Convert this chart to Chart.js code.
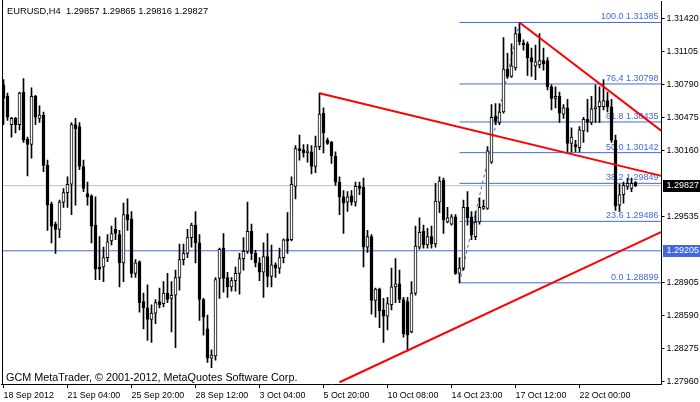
<!DOCTYPE html>
<html lang="en">
<head>
<meta charset="UTF-8">
<title>EURUSD,H4</title>
<script src="https://cdn.jsdelivr.net/npm/chart.js"></script>
<style>
  body { margin: 0; background: #fff; }
  canvas { display: block; }
</style>
</head>
<body>
<canvas id="chart" width="700" height="402"></canvas>
<script>
// EURUSD H4 candles (bar 0 = 18 Sep 2012)
const opens = [
  1.3079, 1.3068, 1.3041, 1.3047, 1.3041, 1.3072, 1.3027, 1.3022, 1.3068, 1.3047,
  1.3050, 1.3002, 1.2965, 1.2946, 1.2941, 1.2967, 1.2976, 1.2984, 1.3041, 1.3039,
  1.3001, 1.2975, 1.2973, 1.2945, 1.2905, 1.2905, 1.2914, 1.2930, 1.2941, 1.2936,
  1.2909, 1.2955, 1.2951, 1.2899, 1.2910, 1.2872, 1.2866, 1.2855, 1.2861, 1.2872,
  1.2870, 1.2880, 1.2875, 1.2878, 1.2895, 1.2912, 1.2918, 1.2933, 1.2945, 1.2928,
  1.2874, 1.2846, 1.2818, 1.2820, 1.2894, 1.2923, 1.2895, 1.2886, 1.2892, 1.2899,
  1.2913, 1.2920, 1.2939, 1.2918, 1.2909, 1.2900, 1.2915, 1.2896, 1.2907, 1.2904,
  1.2914, 1.2932, 1.2931, 1.2982, 1.3018, 1.3017, 1.3014, 1.3015, 1.3001, 1.3020,
  1.3052, 1.3026, 1.3024, 1.3011, 1.2986, 1.2972, 1.2967, 1.2973, 1.2967, 1.2982,
  1.2981, 1.2924, 1.2934, 1.2873, 1.2884, 1.2864, 1.2858, 1.2869, 1.2886, 1.2889,
  1.2874, 1.2872, 1.2843, 1.2880, 1.2924, 1.2939, 1.2926, 1.2934, 1.2927, 1.2967,
  1.2988, 1.2948, 1.2946, 1.2953, 1.2899, 1.2904, 1.2962, 1.2953, 1.2934, 1.2948,
  1.2961, 1.2961, 1.3005, 1.3049, 1.3043, 1.3053, 1.3094, 1.3087, 1.3095, 1.3128,
  1.3119, 1.3118, 1.3105, 1.3097, 1.3098, 1.3102, 1.3102, 1.3077, 1.3066, 1.3068,
  1.3051, 1.3057, 1.3023, 1.3022, 1.3019, 1.3035, 1.3046, 1.3043, 1.3056, 1.3058,
  1.3058, 1.3064, 1.3058, 1.3026, 1.2964, 1.2974, 1.2982, 1.2980, 1.29857
];
const highs = [
  1.3084, 1.3071, 1.3048, 1.3048, 1.3072, 1.3085, 1.3029, 1.3076, 1.3069, 1.3059,
  1.3053, 1.3007, 1.2967, 1.2948, 1.2969, 1.2980, 1.2991, 1.3043, 1.3047, 1.3043,
  1.3007, 1.2986, 1.2974, 1.2972, 1.2934, 1.2924, 1.2936, 1.2944, 1.2952, 1.2940,
  1.2966, 1.2970, 1.2958, 1.2912, 1.2911, 1.2880, 1.2888, 1.2869, 1.2874, 1.2885,
  1.2891, 1.2899, 1.2891, 1.2902, 1.2927, 1.2927, 1.2941, 1.2947, 1.2958, 1.2936,
  1.2875, 1.2859, 1.2826, 1.2895, 1.2923, 1.2937, 1.2900, 1.2895, 1.2905, 1.2918,
  1.2933, 1.2967, 1.2946, 1.2921, 1.2914, 1.2928, 1.2937, 1.2926, 1.2909, 1.2923,
  1.2932, 1.2957, 1.2991, 1.3021, 1.3031, 1.3022, 1.3022, 1.3021, 1.3030, 1.3071,
  1.3057, 1.3028, 1.3025, 1.3015, 1.2991, 1.2978, 1.2977, 1.2978, 1.2986, 1.2986,
  1.2990, 1.2940, 1.2936, 1.2885, 1.2885, 1.2875, 1.2876, 1.2904, 1.2913, 1.2902,
  1.2876, 1.2876, 1.2891, 1.2944, 1.2952, 1.2945, 1.2942, 1.2944, 1.2985, 1.2991,
  1.2990, 1.2962, 1.2955, 1.2955, 1.2914, 1.2969, 1.2977, 1.2958, 1.2958, 1.2971,
  1.2969, 1.3020, 1.3060, 1.3061, 1.3061, 1.3124, 1.3109, 1.3118, 1.3134, 1.31385,
  1.3122, 1.3120, 1.3114, 1.3117, 1.3128, 1.3114, 1.3105, 1.3079, 1.3077, 1.3072,
  1.3060, 1.3065, 1.3038, 1.3026, 1.3039, 1.3048, 1.3065, 1.3068, 1.3079, 1.3077,
  1.3084, 1.3072, 1.3065, 1.3031, 1.2984, 1.2986, 1.2990, 1.2990, 1.29865
];
const lows = [
  1.3041, 1.3045, 1.3029, 1.3033, 1.3036, 1.3024, 1.2992, 1.3009, 1.3041, 1.3043,
  1.2996, 1.2940, 1.2928, 1.2918, 1.2933, 1.2962, 1.2962, 1.2955, 1.2964, 1.2998,
  1.2977, 1.2964, 1.2928, 1.2893, 1.2893, 1.2891, 1.2910, 1.2926, 1.2931, 1.2886,
  1.2891, 1.2940, 1.2895, 1.2895, 1.2862, 1.2846, 1.2835, 1.2833, 1.2851, 1.2866,
  1.2867, 1.2871, 1.2843, 1.2828, 1.2883, 1.2907, 1.2914, 1.2924, 1.2909, 1.2854,
  1.2840, 1.2814, 1.2809, 1.2816, 1.2875, 1.2881, 1.2876, 1.2882, 1.2882, 1.2879,
  1.2902, 1.2918, 1.2912, 1.2905, 1.2892, 1.2876, 1.2886, 1.2886, 1.2895, 1.2899,
  1.2909, 1.2918, 1.2930, 1.2970, 1.3007, 1.3010, 1.3005, 1.2994, 1.2995, 1.3017,
  1.3014, 1.3022, 1.3004, 1.2983, 1.2955, 1.2937, 1.2958, 1.2964, 1.2963, 1.2974,
  1.2905, 1.2919, 1.2860, 1.2857, 1.2847, 1.2833, 1.2845, 1.2864, 1.2871, 1.2871,
  1.2838, 1.2825, 1.2842, 1.2878, 1.2922, 1.2923, 1.2923, 1.2923, 1.2924, 1.2957,
  1.2937, 1.2947, 1.2945, 1.2898, 1.28899, 1.2902, 1.2945, 1.2931, 1.2931, 1.2946,
  1.2960, 1.2960, 1.3004, 1.3041, 1.3041, 1.3052, 1.3085, 1.3086, 1.3093, 1.3117,
  1.3112, 1.3088, 1.3087, 1.3084, 1.3095, 1.3093, 1.3074, 1.3055, 1.3057, 1.3043,
  1.3047, 1.3015, 1.3015, 1.3015, 1.3015, 1.3024, 1.3034, 1.3041, 1.3043, 1.3043,
  1.3055, 1.3053, 1.3024, 1.2959, 1.2958, 1.2966, 1.2979, 1.2977, 1.29816
];
const closes = [
  1.3066, 1.3048, 1.3047, 1.3041, 1.3071, 1.3026, 1.3022, 1.3068, 1.3048, 1.3050,
  1.3002, 1.2964, 1.2944, 1.2941, 1.2967, 1.2976, 1.2984, 1.3041, 1.3037, 1.3001,
  1.2980, 1.2972, 1.2944, 1.2903, 1.2903, 1.2914, 1.2929, 1.2937, 1.2937, 1.2909,
  1.2955, 1.2950, 1.2899, 1.2909, 1.2871, 1.2866, 1.2855, 1.2861, 1.2871, 1.2869,
  1.2880, 1.2874, 1.2878, 1.2895, 1.2912, 1.2918, 1.2933, 1.2945, 1.2928, 1.2874,
  1.2857, 1.2818, 1.2821, 1.2893, 1.2922, 1.2894, 1.2886, 1.2892, 1.2899, 1.2913,
  1.2920, 1.2939, 1.2918, 1.2909, 1.2900, 1.2915, 1.2896, 1.2907, 1.2904, 1.2914,
  1.2931, 1.2930, 1.2984, 1.3018, 1.3016, 1.3014, 1.3016, 1.3001, 1.3020, 1.3051,
  1.3033, 1.3023, 1.3011, 1.2986, 1.2972, 1.2966, 1.2972, 1.2967, 1.2982, 1.2980,
  1.2924, 1.2934, 1.2873, 1.2884, 1.2863, 1.2858, 1.2870, 1.2886, 1.2889, 1.2874,
  1.2841, 1.2840, 1.2880, 1.2925, 1.2938, 1.2926, 1.2934, 1.2927, 1.2968, 1.2987,
  1.2950, 1.2952, 1.2953, 1.2899, 1.2904, 1.2962, 1.2952, 1.2936, 1.2948, 1.2962,
  1.2963, 1.3016, 1.3048, 1.3044, 1.3053, 1.3094, 1.3087, 1.3097, 1.3128, 1.3120,
  1.3117, 1.3105, 1.3101, 1.3101, 1.3102, 1.3099, 1.3077, 1.3066, 1.3068, 1.3052,
  1.3057, 1.3023, 1.3029, 1.3020, 1.3036, 1.3046, 1.3043, 1.3056, 1.3058, 1.3063,
  1.3064, 1.3058, 1.3026, 1.2963, 1.2974, 1.2983, 1.2985, 1.2985, 1.29827
];

// time axis labels and the bars they sit on
const dateLabels = ['18 Sep 2012', '21 Sep 04:00', '25 Sep 20:00', '28 Sep 12:00', '3 Oct 04:00',
                    '5 Oct 20:00', '10 Oct 08:00', '14 Oct 23:00', '17 Oct 12:00', '22 Oct 00:00'];
const dateBars = [0, 16, 32, 48, 64, 80, 96, 112, 128, 144];
const priceTicks = [1.27960, 1.28275, 1.28590, 1.28905, 1.29535, 1.30160, 1.30475, 1.30790, 1.31105, 1.31420];

// fibonacci retracement from the low bar to the high bar
const fibNames = ['0.0', '23.6', '38.2', '50.0', '61.8', '76,4', '100.0'];
const fibPrices = [1.28899, 1.29486, 1.29849, 1.30142, 1.30435, 1.30798, 1.31385];
const fibBars = [114, 129];

// red trend lines: [bar, price, bar, price]
const trendLines = [
  [79, 1.3071, 164.5, 1.2992],
  [129, 1.31385, 164.5, 1.3035],
  [84, 1.2795, 164.5, 1.29385]
];
const bidPrice = 1.29827;
const levelPrice = 1.29205;

const lastBar = 164.5;   // empty shift space on the right
const FONT = '"Liberation Sans", Arial, sans-serif';
const BLUE = '#4169E1';

const bars = opens.map((o, i) => i);
const up = i => closes[i] >= opens[i];

function segment(x1, y1, x2, y2, color, width, dash, order) {
  return {
    type: 'line',
    data: [{x: x1, y: y1}, {x: x2, y: y2}],
    borderColor: color,
    borderWidth: width,
    borderDash: dash || [],
    pointRadius: 0,
    clip: 0,
    order: order
  };
}

const datasets = [
  {
    label: 'wicks',
    data: bars.map(i => ({x: i, y: [lows[i], highs[i]]})),
    backgroundColor: '#000',
    borderWidth: 0,
    barThickness: 1,
    grouped: false,
    order: 2
  },
  {
    label: 'bodies',
    data: bars.map(i => ({x: i, y: [opens[i], closes[i]]})),
    backgroundColor: ctx => up(ctx.dataIndex) ? '#fff' : '#000',
    borderColor: '#000',
    borderWidth: 1,
    borderSkipped: false,
    barThickness: 3,
    minBarLength: 1,
    grouped: false,
    order: 1
  },
  segment(-0.5, bidPrice, lastBar, bidPrice, '#C0C0C0', 1, null, 3),
  segment(-0.5, levelPrice, lastBar, levelPrice, BLUE, 1, null, 3),
  segment(fibBars[0], fibPrices[0], fibBars[1], fibPrices[fibPrices.length - 1], BLUE, 1, [3, 3], 3)
];
fibPrices.forEach(p => datasets.push(segment(fibBars[0], p, lastBar, p, BLUE, 1, null, 3)));
trendLines.forEach(t => datasets.push(segment(t[0], t[1], t[2], t[3], '#FF0000', 2, null, 0)));

const overlay = {
  id: 'overlay',
  beforeDatasetsDraw(chart) {
    const {ctx, chartArea, scales: {y}} = chart;
    ctx.save();
    ctx.font = '9px ' + FONT;
    ctx.fillStyle = BLUE;
    ctx.textAlign = 'right';
    ctx.textBaseline = 'alphabetic';
    fibPrices.forEach((p, k) => {
      ctx.fillText(fibNames[k] + ' ' + p.toFixed(5), chartArea.right - 3, y.getPixelForValue(p) - 3);
    });
    ctx.restore();
  },
  afterDraw(chart) {
    const {ctx, chartArea, scales: {y}} = chart;
    ctx.save();
    // left frame line
    ctx.strokeStyle = '#000';
    ctx.lineWidth = 1;
    ctx.beginPath();
    ctx.moveTo(2.5, chartArea.bottom);
    ctx.lineTo(2.5, 0);
    ctx.stroke();
    // price tags on the axis
    ctx.font = '9px ' + FONT;
    ctx.textAlign = 'left';
    ctx.textBaseline = 'middle';
    [[bidPrice, '#000'], [levelPrice, BLUE]].forEach(([v, bg]) => {
      const py = Math.round(y.getPixelForValue(v));
      ctx.fillStyle = bg;
      ctx.fillRect(Math.round(chartArea.right) + 1, py - 6, 40, 12);
      ctx.fillStyle = '#fff';
      ctx.fillText(v.toFixed(5), chartArea.right + 5, py);
    });
    // header and copyright
    const n = closes.length - 1;
    ctx.fillStyle = '#000';
    ctx.textBaseline = 'alphabetic';
    ctx.font = '9.3px ' + FONT;
    ctx.fillText('EURUSD,H4  ' + [opens[n], highs[n], lows[n], closes[n]].map(v => v.toFixed(5)).join(' '), 7, 14);
    ctx.font = '10.8px ' + FONT;
    ctx.fillText('GCM MetaTrader, \u00A9 2001-2012, MetaQuotes Software Corp.', 6, 381);
    ctx.restore();
  }
};

new Chart(document.getElementById('chart'), {
  type: 'bar',
  data: {datasets: datasets},
  options: {
    responsive: false,
    animation: false,
    devicePixelRatio: 1,
    layout: {padding: {left: 1.5, top: 1, right: 0, bottom: 0}},
    plugins: {legend: {display: false}, tooltip: {enabled: false}},
    scales: {
      x: {
        type: 'linear',
        position: 'bottom',
        min: -0.5,
        max: lastBar,
        offset: false,
        grid: {drawOnChartArea: false, offset: false, tickLength: 4, color: '#000'},
        border: {display: true, color: '#000'},
        ticks: {
          align: 'start',
          padding: 2,
          maxRotation: 0,
          autoSkip: false,
          color: '#000',
          font: {family: FONT, size: 8.9},
          callback: v => dateLabels[dateBars.indexOf(v)]
        },
        afterBuildTicks: s => { s.ticks = dateBars.map(v => ({value: v})); },
        afterFit: s => { s.height = 18; s.paddingLeft = 0; s.paddingRight = 0; }
      },
      y: {
        type: 'linear',
        position: 'right',
        min: 1.27933,
        max: 1.31590,
        beginAtZero: false,
        grid: {drawOnChartArea: false, tickLength: 3, color: '#000'},
        border: {display: true, color: '#000'},
        ticks: {
          padding: 2,
          color: '#000',
          font: {family: FONT, size: 8.9},
          callback: v => v.toFixed(5)
        },
        afterBuildTicks: s => { s.ticks = priceTicks.map(v => ({value: v})); },
        afterFit: s => { s.width = 38.5; s.paddingTop = 0; s.paddingBottom = 0; }
      }
    }
  },
  plugins: [overlay]
});
</script>
</body>
</html>
